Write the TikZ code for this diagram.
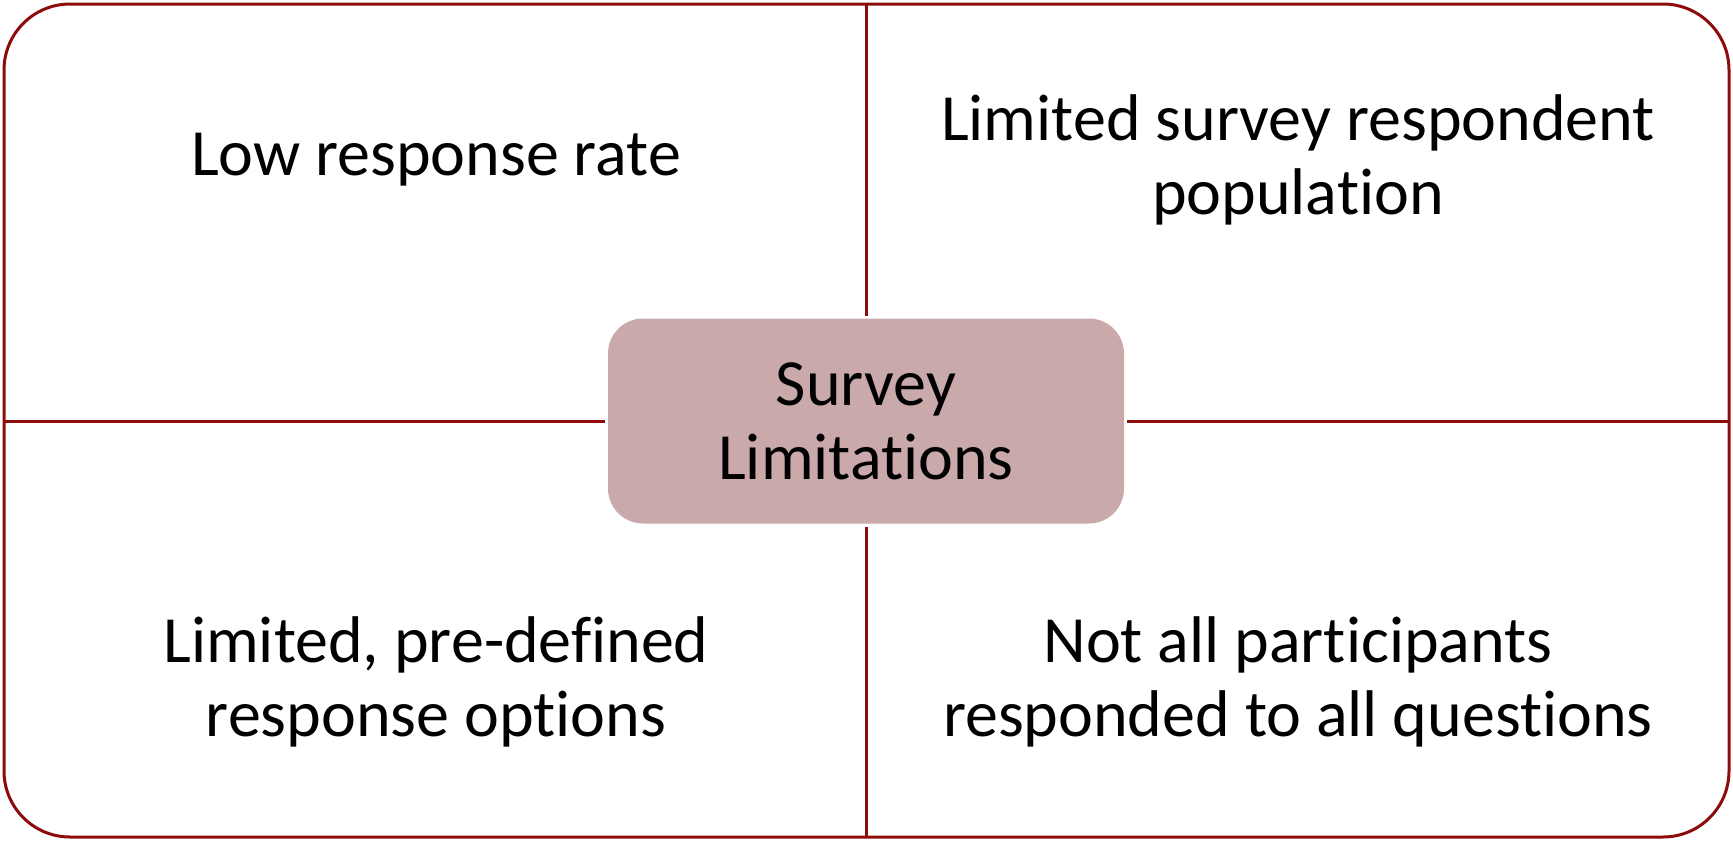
\documentclass[tikz,border=0pt]{standalone}
\usepackage{fontspec}
\setmainfont{Carlito}[Ligatures=NoCommon]
\usepackage{xcolor}
\usepackage{tikz}
\usetikzlibrary{positioning}
\definecolor{frameRed}{HTML}{8E0B0B}
\definecolor{hubRose}{HTML}{C9A9AA}

\begin{document}
\begin{tikzpicture}[
  x=1pt, y=-1pt,
  every node/.style={align=center,inner sep=0pt,font=\fontsize{66}{74}\selectfont},
  frame/.style={draw=frameRed,line width=3pt,rounded corners=66pt},
  divider/.style={draw=frameRed,line width=3pt},
  hub/.style={fill=hubRose,rounded corners=35pt,minimum width=516pt,minimum height=205pt,outer sep=3pt}
]
\useasboundingbox (0,0) rectangle (1733,841);

% outer frame with the two dividers meeting under the hub
\draw[frame] (4,4) rectangle (1729,837);
\coordinate (fN) at (866,4);
\coordinate (fS) at (866,837);
\coordinate (fW) at (4,421);
\coordinate (fE) at (1729,421);

\node[hub] (ctr) at (866,421) {Survey\\Limitations};

\draw[divider] (ctr.north) -- (fN);
\draw[divider] (ctr.south) -- (fS);
\draw[divider] (ctr.west) -- (fW);
\draw[divider] (ctr.east) -- (fE);

% the four quadrant labels
\node (tl) at (436,160) {Low response rate};
\node (tr) at (1298,160) {Limited survey respondent\\population};
\node (bl) at (436,682) {Limited, pre-defined\\response options};
\node (br) at (1298,682) {Not all participants\\responded to all questions};
\end{tikzpicture}
\end{document}
